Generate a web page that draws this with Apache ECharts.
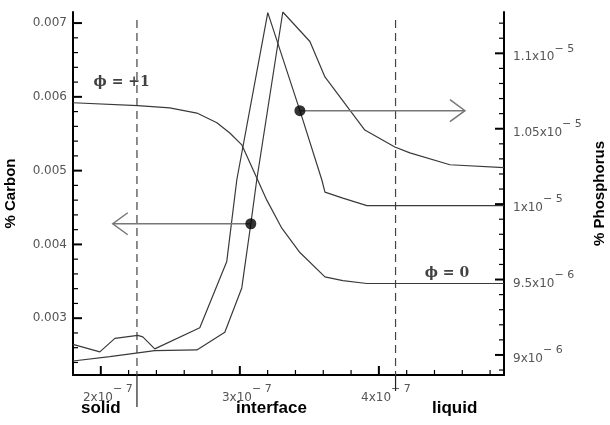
<!DOCTYPE html>
<html>
<head>
<meta charset="utf-8">
<script src="https://cdn.jsdelivr.net/npm/echarts@6/dist/echarts.min.js"></script>
<style>
    html, body { margin: 0; padding: 0; background: #fff; }
    #chart { width: 610px; height: 425px; }
</style>
</head>
<body>
<div id="chart"></div>
<script>
// x positions are in units of 1e-7, phosphorus values in units of 1e-6
let carbonX = [1.8, 2.065, 2.388, 2.691, 2.892, 3.014, 3.079, 3.122, 3.309, 3.504, 3.612, 3.899, 4.115, 4.223, 4.511, 4.9];
let carbon = [0.00242, 0.00248, 0.00256, 0.00257, 0.00281, 0.00341, 0.00428, 0.00488, 0.00715, 0.00675, 0.00627, 0.00555, 0.00532, 0.00524, 0.00508, 0.00504];

let phosX = [1.8, 1.993, 2.101, 2.266, 2.302, 2.388, 2.712, 2.906, 2.978, 3.201, 3.432, 3.590, 3.612, 3.741, 3.914, 4.9];
let phos = [9.07, 9.02, 9.11, 9.13, 9.12, 9.04, 9.18, 9.62, 10.16, 11.27, 10.62, 10.16, 10.08, 10.04, 9.99, 9.99];

// phase field, drawn against the carbon axis
let phiX = [1.8, 2.266, 2.496, 2.691, 2.835, 2.928, 3.014, 3.122, 3.194, 3.302, 3.432, 3.612, 3.741, 3.914, 4.9];
let phi = [0.00592, 0.00588, 0.00585, 0.00578, 0.00565, 0.00551, 0.00535, 0.00490, 0.00460, 0.00422, 0.00389, 0.00356, 0.00351, 0.00347, 0.00347];

// arrows: [start x, end x, y]
let carbonArrow = [3.079, 2.086, 0.00428];
let phosArrow = [3.432, 4.619, 10.62];

let guideX = [2.26, 4.12];
let phiLabels = [[2.15, 0.00619, 'ϕ = +1'], [4.49, 0.00361, 'ϕ = 0']];
let phaseNames = ['solid', 'interface', 'liquid'];

let rightTickValues = [9, 9.5, 10, 10.5, 11];
let rightTickBase = ['9x10', '9.5x10', '1x10', '1.05x10', '1.1x10'];
let rightTickExp = ['− 6', '− 6', '− 5', '− 5', '− 5'];

let xMin = 1.8, xMax = 4.9;
let cMin = 0.00223, cMax = 0.00715;
let pMin = 8.867, pMax = 11.274;

let tickFont = 'DejaVu Sans';
let richTick = {
    b: {fontFamily: tickFont, fontSize: 12, color: '#555', lineHeight: 20, verticalAlign: 'bottom'},
    s: {fontFamily: tickFont, fontSize: 11, color: '#555', lineHeight: 12, verticalAlign: 'top'}
};

function zip(xs, ys) {
    let out = [];
    for (let i = 0; i < xs.length; i++) {
        out.push([xs[i], ys[i]]);
    }
    return out;
}

function isWhole(v, step) {
    let r = v / step;
    return Math.abs(r - Math.round(r)) < 1e-6;
}

// tick items: [kind (0 bottom, 1 left, 2 right), value, major]
function tickItems(kind, min, max, step, majorStep) {
    let out = [];
    let k = Math.ceil(min / step - 1e-9);
    while (k * step <= max + 1e-12) {
        let v = parseFloat((k * step).toFixed(10));
        if (v > min + 1e-12 && v < max - 1e-12) {
            out.push([kind, v, isWhole(v, majorStep) ? 1 : 0]);
        }
        k++;
    }
    return out;
}

function renderTick(params, api) {
    let cs = params.coordSys;
    let kind = api.value(0);
    let v = api.value(1);
    let major = api.value(2) === 1;
    let len = major ? 9 : 5;
    let style = {stroke: '#000', lineWidth: major ? 2 : 1.2};
    let shape;
    if (kind === 0) {
        let x = api.coord([v, cMin])[0];
        let b = cs.y + cs.height;
        shape = {x1: x, y1: b, x2: x, y2: b - len};
    } else {
        let y = api.coord([xMin, v])[1];
        let edge = kind === 1 ? cs.x : cs.x + cs.width;
        let dir = kind === 1 ? 1 : -1;
        shape = {x1: edge, y1: y, x2: edge + dir * len, y2: y};
    }
    return {type: 'line', shape: shape, style: style};
}

function renderArrow(params, api) {
    let p0 = api.coord([api.value(0), api.value(2)]);
    let p1 = api.coord([api.value(1), api.value(2)]);
    let dir = p1[0] > p0[0] ? 1 : -1;
    let style = {stroke: '#777', lineWidth: 1.5, fill: null};
    return {
        type: 'group',
        children: [
            {type: 'line', shape: {x1: p0[0], y1: p0[1], x2: p1[0], y2: p1[1]}, style: style},
            {type: 'polyline', shape: {points: [[p1[0] - dir * 15, p1[1] - 11], [p1[0], p1[1]], [p1[0] - dir * 15, p1[1] + 11]]}, style: style}
        ]
    };
}

function renderGuide(params, api) {
    let cs = params.coordSys;
    let x = api.coord([api.value(0), cMin])[0];
    let stub = params.dataIndex === 0 ? 32 : 16;
    let bottom = cs.y + cs.height;
    return {
        type: 'group',
        children: [
            {type: 'line', shape: {x1: x, y1: cs.y + 8, x2: x, y2: bottom},
                style: {stroke: '#444', lineWidth: 1.2, lineDash: [8, 5]}},
            {type: 'line', shape: {x1: x, y1: bottom, x2: x, y2: bottom + stub},
                style: {stroke: '#222', lineWidth: 1.2}}
        ]
    };
}

let chart = echarts.init(document.getElementById('chart'));

let lineStyle = {color: '#3a3a3a', width: 1.2};
let nameStyle = {fontFamily: 'Liberation Sans', fontWeight: 'bold', fontSize: 15, color: '#000'};

let option = {
    animation: false,
    backgroundColor: '#fff',
    grid: {left: 73, right: 106, top: 12, bottom: 50, outerBoundsMode: 'none', containLabel: false},
    xAxis: {
        type: 'value',
        min: xMin,
        max: xMax,
        splitNumber: 3,
        splitLine: {show: false},
        axisLine: {show: true, lineStyle: {color: '#000', width: 2}},
        axisTick: {show: false},
        axisLabel: {
            margin: 9,
            padding: [0, 0, 0, 14],
            formatter: function (v) {
                if (!isWhole(v, 1)) return '';
                return '{b|' + Math.round(v) + 'x10}{s|− 7}';
            },
            rich: richTick
        }
    },
    yAxis: [
        {
            type: 'value',
            min: cMin,
            max: cMax,
            splitNumber: 5,
            name: '% Carbon',
            nameLocation: 'middle',
            nameRotate: 90,
            nameGap: 55,
            nameTextStyle: nameStyle,
            splitLine: {show: false},
            axisLine: {show: true, lineStyle: {color: '#000', width: 2}},
            axisTick: {show: false},
            axisLabel: {
                margin: 6,
                fontFamily: tickFont,
                fontSize: 12,
                color: '#555',
                formatter: function (v) {
                    return isWhole(v, 0.001) ? v.toFixed(3) : '';
                }
            }
        },
        {
            type: 'value',
            position: 'right',
            min: pMin,
            max: pMax,
            splitNumber: 5,
            name: '% Phosphorus',
            nameLocation: 'middle',
            nameRotate: 90,
            nameGap: 86,
            nameTextStyle: nameStyle,
            splitLine: {show: false},
            axisLine: {show: true, lineStyle: {color: '#000', width: 2}},
            axisTick: {show: false},
            axisLabel: {
                margin: 9,
                formatter: function (v) {
                    for (let i = 0; i < rightTickValues.length; i++) {
                        if (Math.abs(v - rightTickValues[i]) < 1e-6) {
                            return '{b|' + rightTickBase[i] + '}{s|' + rightTickExp[i] + '}';
                        }
                    }
                    return '';
                },
                rich: richTick
            }
        }
    ],
    series: [
        {type: 'custom', name: 'ticks', yAxisIndex: 0, renderItem: renderTick, silent: true, z: 6,
            data: tickItems(0, xMin, xMax, 0.2, 1).concat(tickItems(1, cMin, cMax, 0.0002, 0.001))},
        {type: 'custom', name: 'rightTicks', yAxisIndex: 1, renderItem: renderTick, silent: true, z: 6,
            data: tickItems(2, pMin, pMax, 0.1, 0.5)},
        {type: 'custom', name: 'guides', renderItem: renderGuide, data: guideX.map(function (x) { return [x]; }), z: 1, silent: true},
        {type: 'line', name: 'phi', yAxisIndex: 0, data: zip(phiX, phi), symbol: 'none', lineStyle: lineStyle, z: 2},
        {type: 'line', name: 'carbon', yAxisIndex: 0, data: zip(carbonX, carbon), symbol: 'none', lineStyle: lineStyle, z: 2},
        {type: 'line', name: 'phosphorus', yAxisIndex: 1, data: zip(phosX, phos), symbol: 'none', lineStyle: lineStyle, z: 2},
        {type: 'custom', name: 'carbonArrow', yAxisIndex: 0, renderItem: renderArrow, data: [carbonArrow], z: 3},
        {type: 'custom', name: 'phosArrow', yAxisIndex: 1, renderItem: renderArrow, data: [phosArrow], z: 3},
        {type: 'scatter', name: 'carbonDot', yAxisIndex: 0, data: [[carbonArrow[0], carbonArrow[2]]],
            symbolSize: 11, itemStyle: {color: '#000'}, z: 4},
        {type: 'scatter', name: 'phosDot', yAxisIndex: 1, data: [[phosArrow[0], phosArrow[2]]],
            symbolSize: 11, itemStyle: {color: '#000'}, z: 4},
        {
            type: 'scatter', name: 'phiLabels', yAxisIndex: 0, symbolSize: 0,
            data: phiLabels.map(function (d) { return {value: [d[0], d[1]], name: d[2]}; }),
            label: {show: true, position: 'inside', formatter: '{b}', fontFamily: 'DejaVu Serif',
                fontSize: 14, fontWeight: 'bold', color: '#111'},
            z: 5
        }
    ],
    graphic: [
        {type: 'text', left: 81, top: 400, style: {text: phaseNames[0], font: 'bold 17px "Liberation Sans"', fill: '#000'}},
        {type: 'text', left: 236, top: 400, style: {text: phaseNames[1], font: 'bold 17px "Liberation Sans"', fill: '#000'}},
        {type: 'text', left: 432, top: 400, style: {text: phaseNames[2], font: 'bold 17px "Liberation Sans"', fill: '#000'}}
    ]
};

chart.setOption(option);
</script>
</body>
</html>
